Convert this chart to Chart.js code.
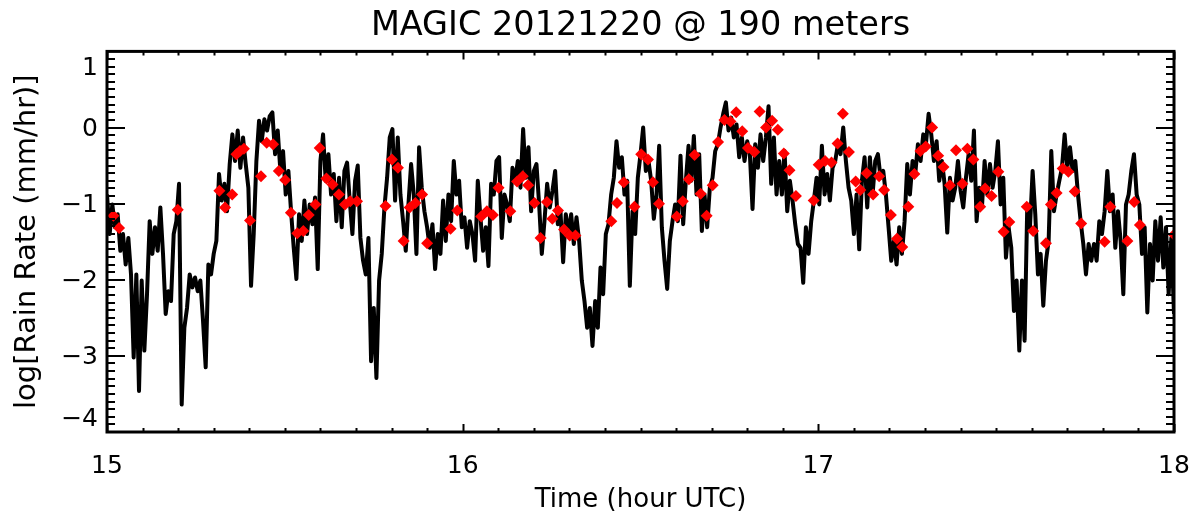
<!DOCTYPE html>
<html>
<head>
<meta charset="utf-8">
<script src="https://cdn.jsdelivr.net/npm/chart.js@4"></script>
<style>
  html, body { margin: 0; padding: 0; background: #fff; }
  #wrap { width: 1198px; height: 516px; }
</style>
</head>
<body>
<div id="wrap"><canvas id="c" width="1198" height="516"></canvas></div>
<script>
// ---- data (time in hours UTC, log10 rain rate in mm/hr) ----
const times = [
15.0000,15.0075,15.0150,15.0225,15.0300,15.0375,15.0450,15.0525,15.0600,15.0675,15.0750,15.0825,
15.0900,15.0975,15.1050,15.1125,15.1200,15.1275,15.1350,15.1425,15.1500,15.1575,15.1650,15.1725,
15.1800,15.1875,15.1950,15.2025,15.2100,15.2175,15.2250,15.2325,15.2400,15.2475,15.2550,15.2625,
15.2700,15.2775,15.2850,15.2925,15.3000,15.3075,15.3150,15.3225,15.3300,15.3375,15.3450,15.3525,
15.3600,15.3675,15.3750,15.3825,15.3900,15.3975,15.4050,15.4125,15.4200,15.4275,15.4350,15.4425,
15.4500,15.4575,15.4650,15.4725,15.4800,15.4875,15.4950,15.5025,15.5100,15.5175,15.5250,15.5325,
15.5400,15.5475,15.5550,15.5625,15.5700,15.5775,15.5850,15.5925,15.6000,15.6075,15.6150,15.6225,
15.6300,15.6375,15.6450,15.6525,15.6600,15.6675,15.6750,15.6825,15.6900,15.6975,15.7050,15.7125,
15.7200,15.7275,15.7350,15.7425,15.7500,15.7575,15.7650,15.7725,15.7800,15.7875,15.7950,15.8025,
15.8100,15.8175,15.8250,15.8325,15.8400,15.8475,15.8550,15.8625,15.8700,15.8775,15.8850,15.8925,
15.9000,15.9075,15.9150,15.9225,15.9300,15.9375,15.9450,15.9525,15.9600,15.9675,15.9750,15.9825,
15.9900,15.9975,16.0050,16.0125,16.0200,16.0275,16.0350,16.0425,16.0500,16.0575,16.0650,16.0725,
16.0800,16.0875,16.0950,16.1025,16.1100,16.1175,16.1250,16.1325,16.1400,16.1475,16.1550,16.1625,
16.1700,16.1775,16.1850,16.1925,16.2000,16.2075,16.2150,16.2225,16.2300,16.2375,16.2450,16.2525,
16.2600,16.2675,16.2750,16.2825,16.2900,16.2975,16.3050,16.3125,16.3200,16.3275,16.3350,16.3425,
16.3500,16.3575,16.3650,16.3725,16.3800,16.3875,16.3950,16.4025,16.4100,16.4175,16.4250,16.4325,
16.4400,16.4475,16.4550,16.4625,16.4700,16.4775,16.4850,16.4925,16.5000,16.5075,16.5150,16.5225,
16.5300,16.5375,16.5450,16.5525,16.5600,16.5675,16.5750,16.5825,16.5900,16.5975,16.6050,16.6125,
16.6200,16.6275,16.6350,16.6425,16.6500,16.6575,16.6650,16.6725,16.6800,16.6875,16.6950,16.7025,
16.7100,16.7175,16.7250,16.7325,16.7400,16.7475,16.7550,16.7625,16.7700,16.7775,16.7850,16.7925,
16.8000,16.8075,16.8150,16.8225,16.8300,16.8375,16.8450,16.8525,16.8600,16.8675,16.8750,16.8825,
16.8900,16.8975,16.9050,16.9125,16.9200,16.9275,16.9350,16.9425,16.9500,16.9575,16.9650,16.9725,
16.9800,16.9875,16.9950,17.0025,17.0100,17.0175,17.0250,17.0325,17.0400,17.0475,17.0550,17.0625,
17.0700,17.0775,17.0850,17.0925,17.1000,17.1075,17.1150,17.1225,17.1300,17.1375,17.1450,17.1525,
17.1600,17.1675,17.1750,17.1825,17.1900,17.1975,17.2050,17.2125,17.2200,17.2275,17.2350,17.2425,
17.2500,17.2575,17.2650,17.2725,17.2800,17.2875,17.2950,17.3025,17.3100,17.3175,17.3250,17.3325,
17.3400,17.3475,17.3550,17.3625,17.3700,17.3775,17.3850,17.3925,17.4000,17.4075,17.4150,17.4225,
17.4300,17.4375,17.4450,17.4525,17.4600,17.4675,17.4750,17.4825,17.4900,17.4975,17.5050,17.5125,
17.5200,17.5275,17.5350,17.5425,17.5500,17.5575,17.5650,17.5725,17.5800,17.5875,17.5950,17.6025,
17.6100,17.6175,17.6250,17.6325,17.6400,17.6475,17.6550,17.6625,17.6700,17.6775,17.6850,17.6925,
17.7000,17.7075,17.7150,17.7225,17.7300,17.7375,17.7450,17.7525,17.7600,17.7675,17.7750,17.7825,
17.7900,17.7975,17.8050,17.8125,17.8200,17.8275,17.8350,17.8425,17.8500,17.8575,17.8650,17.8725,
17.8800,17.8875,17.8950,17.9025,17.9100,17.9175,17.9250,17.9325,17.9400,17.9475,17.9550,17.9625,
17.9700,17.9775,17.9850,17.9925,18.0000
];

const logRainRate = [
-0.88,-1.40,-1.01,-1.31,-1.14,-1.62,-1.40,-1.80,-1.45,-1.93,
-3.02,-1.93,-3.46,-2.01,-2.93,-2.19,-1.23,-1.66,-1.31,-1.62,
-1.05,-1.66,-2.45,-2.15,-2.28,-1.40,-1.23,-0.74,-3.64,-2.63,
-2.37,-1.93,-2.10,-1.97,-2.15,-2.01,-2.54,-3.15,-1.80,-1.93,
-1.66,-1.49,-0.61,-0.96,-0.74,-1.10,-0.48,-0.09,-0.44,-0.04,
-0.53,-0.13,-0.48,-0.79,-2.08,-1.40,-0.44,0.09,-0.18,0.11,
-0.04,0.15,0.20,-0.35,-0.04,-0.57,-0.31,-0.88,-0.57,-1.10,
-1.58,-1.99,-1.14,-1.49,-0.96,-1.40,-1.01,-1.27,-0.92,-1.86,
-0.44,-0.09,-0.70,-0.35,-0.88,-0.61,-1.23,-0.66,-1.31,-0.57,
-0.46,-0.96,-1.40,-0.70,-0.50,-1.45,-1.75,-1.93,-1.45,-3.07,
-2.37,-3.29,-2.01,-1.66,-1.05,-0.66,-0.13,-0.02,-0.96,-0.13,
-0.88,-1.23,-1.62,-1.01,-0.48,-0.88,-1.66,-0.26,-0.79,-1.10,
-1.31,-1.58,-1.27,-1.86,-1.40,-1.66,-0.96,-1.49,-0.88,-1.23,
-0.44,-0.88,-0.70,-1.31,-1.18,-1.58,-1.23,-1.40,-1.75,-0.70,
-1.18,-1.62,-1.31,-1.82,-0.74,-0.88,-0.44,-0.39,-1.45,-0.88,
-1.01,-1.23,-0.53,-0.70,-0.44,-0.79,-0.02,-0.66,-0.26,-1.10,
-0.57,-0.48,-1.01,-1.66,-1.23,-0.74,-1.05,-0.83,-0.57,-1.27,
-1.10,-1.77,-1.14,-1.40,-1.14,-1.53,-1.18,-1.49,-2.01,-2.28,
-2.63,-2.37,-2.87,-2.28,-2.63,-1.84,-2.19,-1.40,-1.27,-0.88,
-0.66,-0.18,-0.53,-0.39,-0.88,-0.70,-2.08,-1.10,-1.40,-0.66,
-0.35,0.00,-0.57,-0.44,-0.70,-1.20,-0.88,-0.24,-1.31,-1.75,
-2.12,-1.49,-1.23,-1.01,-1.23,-0.37,-1.27,-0.70,-0.24,-0.70,
-0.11,-0.88,-0.35,-1.36,-0.88,-1.31,-0.79,-0.66,-0.31,-0.22,
0.00,0.18,0.33,-0.04,0.13,-0.13,0.04,-0.39,-0.13,-0.44,
-0.18,-0.35,-1.07,-0.22,-0.53,-0.09,-0.44,-0.13,0.28,-0.74,
-0.13,-0.88,-0.44,-0.88,-0.31,-1.10,-0.70,-0.96,-1.27,-1.53,
-1.58,-2.04,-1.31,-1.66,-1.23,-0.96,-0.66,-1.01,-0.24,-0.88,
-0.61,-0.96,-0.53,-0.44,-0.22,-0.35,0.00,-0.44,-0.79,-0.96,
-1.40,-0.88,-1.60,-0.70,-0.39,-1.05,-0.39,-0.88,-0.44,-0.35,
-0.66,-0.57,-0.88,-1.31,-1.75,-1.49,-1.80,-1.31,-1.66,-1.23,
-0.48,-0.88,-0.44,-0.61,-0.22,-0.44,-0.09,-0.22,0.18,-0.09,
-0.44,-0.18,-0.70,-0.44,-0.74,-1.38,-0.66,-0.96,-0.79,-0.44,
-0.83,-1.05,-0.66,-0.35,-0.70,-0.04,-1.23,-0.79,-1.05,-0.44,
-0.88,-0.48,-0.79,-0.57,-0.18,-1.01,-0.66,-1.71,-1.31,-1.58,
-2.41,-2.01,-2.93,-2.01,-2.80,-1.01,-1.31,-0.57,-1.14,-1.93,
-1.66,-2.34,-1.75,-1.49,-0.31,-1.10,-0.88,-0.70,-0.53,-0.09,
-0.53,-0.26,-0.57,-0.44,-0.88,-1.23,-1.53,-1.93,-1.53,-1.75,
-1.53,-1.75,-1.23,-1.40,-1.10,-0.57,-1.10,-0.88,-1.58,-1.10,
-1.49,-2.19,-1.01,-0.88,-0.57,-0.35,-0.88,-1.01,-1.66,-1.31,
-2.43,-1.53,-2.01,-1.23,-1.75,-1.18,-1.84,-1.31,-2.19,-1.45,
-2.45
];

// red diamond samples
const sampleTimes = [
15.018,15.034,15.199,15.316,15.332,15.352,15.364,15.374,15.385,15.402,
15.433,15.449,15.467,15.483,15.501,15.517,15.535,15.552,15.567,15.586,
15.598,15.617,15.634,15.652,15.669,15.684,15.703,
15.783,15.801,15.818,15.834,15.851,15.867,15.886,15.900,15.966,15.985,
16.052,16.068,16.085,16.101,16.134,16.153,16.169,16.184,16.202,16.219,
16.237,16.252,16.268,16.285,16.301,16.317,16.418,16.434,16.453,
16.483,16.502,16.521,16.535,16.552,16.602,16.619,16.636,16.652,16.669,
16.686,16.703,16.718,16.736,16.753,16.769,16.786,16.802,16.820,16.835,
16.853,16.870,16.886,16.903,16.919,16.937,16.987,17.001,17.019,17.037,
17.054,17.069,17.086,17.105,17.118,17.136,17.154,17.171,17.185,17.204,
17.221,17.236,
17.253,17.270,17.287,17.302,17.320,17.337,17.352,17.370,17.387,17.405,
17.419,17.436,17.455,17.469,17.487,17.506,17.521,17.537,17.586,17.604,
17.640,17.654,17.670,17.687,17.703,17.721,17.739,17.805,17.821,17.869,
17.888,17.904,18.000
];
const sampleValues = [
-1.16,-1.32,-1.08,-0.83,-1.05,-0.88,-0.35,-0.31,-0.28,-1.22,
-0.64,-0.20,-0.22,-0.57,-0.69,-1.12,-1.39,-1.36,-1.15,-1.01,
-0.27,-0.67,-0.75,-0.88,-1.01,-0.97,-0.97,
-1.03,-0.42,-0.53,-1.49,-1.05,-0.99,-0.88,-1.52,-1.33,-1.09,
-1.17,-1.10,-1.15,-0.79,-1.10,-0.71,-0.64,-0.76,-0.99,-1.45,
-0.98,-1.20,-1.09,-1.34,-1.42,-1.42,-1.23,-0.99,-0.72,
-1.04,-0.35,-0.42,-0.72,-1.00,-1.17,-0.97,-0.68,-0.36,-0.87,
-1.16,-0.76,-0.19,0.10,0.08,0.20,-0.05,-0.27,-0.32,0.21,
0.00,0.09,-0.03,-0.34,-0.56,-0.90,-0.96,-0.49,-0.44,-0.46,
-0.21,0.18,-0.32,-0.71,-0.82,-0.60,-0.88,-0.64,-0.82,-1.15,
-1.46,-1.57,
-1.04,-0.61,-0.31,-0.25,0.00,-0.37,-0.52,-0.76,-0.30,-0.74,
-0.28,-0.42,-1.04,-0.80,-0.90,-0.58,-1.37,-1.24,-1.04,-1.36,
-1.52,-1.01,-0.86,-0.54,-0.58,-0.84,-1.26,-1.50,-1.04,-1.49,
-0.98,-1.28,-1.41
];

// axes
const xMin = 15, xMax = 18;
const yMin = -4, yMax = 1;
const xTickValues = [15, 16, 17, 18];
const xTickLabels = ['15', '16', '17', '18'];
const yTickValues = [-4, -3, -2, -1, 0, 1];
const yTickLabels = ['\u22124', '\u22123', '\u22122', '\u22121', '0', '1'];
const xMinorStep = 0.1;
const yMinorStep = 0.1;

const titleText = 'MAGIC 20121220 @ 190 meters';
const xTitle = 'Time (hour UTC)';
const yTitle = 'log[Rain Rate (mm/hr)]';

// ---- drawing ----
const FONT = "'DejaVu Sans', sans-serif";
Chart.defaults.font.family = FONT;
Chart.defaults.color = '#000';

const frameTicks = {
  id: 'frameTicks',
  afterDatasetsDraw(chart) {
    const {ctx, chartArea: a, scales: {x, y}} = chart;
    ctx.save();
    ctx.strokeStyle = '#000';
    ctx.lineWidth = 2;
    ctx.beginPath();
    const nx = Math.round((xMax - xMin) / xMinorStep);
    for (let i = 0; i <= nx; i++) {
      const v = xMin + i * xMinorStep;
      const px = Math.round(x.getPixelForValue(v)) + 0.5;
      const major = i % 10 === 0;
      const len = major ? 8 : 4;
      ctx.moveTo(px, a.bottom); ctx.lineTo(px, a.bottom - len);
      ctx.moveTo(px, a.top); ctx.lineTo(px, a.top + len);
    }
    const ny = Math.round((yMax - yMin) / yMinorStep);
    for (let i = 0; i <= ny; i++) {
      const v = yMin + i * yMinorStep;
      const py = Math.round(y.getPixelForValue(v));
      const major = i % 10 === 0;
      const len = major ? 18 : 8;
      ctx.moveTo(a.left, py); ctx.lineTo(a.left + len, py);
      ctx.moveTo(a.right, py); ctx.lineTo(a.right - len, py);
    }
    ctx.stroke();
    ctx.lineWidth = 3;
    ctx.strokeRect(a.left, a.top, a.right - a.left, a.bottom - a.top);
    ctx.restore();
  }
};

const linePoints = times.map((t, i) => ({x: t, y: logRainRate[i]}));
const samplePoints = sampleTimes.map((t, i) => ({x: t, y: sampleValues[i]}));

new Chart(document.getElementById('c'), {
  type: 'line',
  data: {
    datasets: [
      {
        label: 'rain rate',
        data: linePoints,
        borderColor: '#000',
        borderWidth: 4,
        borderJoinStyle: 'round',
        pointRadius: 0,
        tension: 0,
        fill: false,
        clip: 0,
        order: 2
      },
      {
        label: 'samples',
        data: samplePoints,
        showLine: false,
        pointStyle: 'rectRot',
        pointRadius: 6,
        pointBackgroundColor: '#ff0000',
        pointBorderWidth: 0,
        backgroundColor: '#ff0000',
        borderColor: '#ff0000',
        clip: 0,
        order: 1
      }
    ]
  },
  options: {
    responsive: false,
    animation: false,
    devicePixelRatio: 1,
    events: [],
    layout: { padding: { left: 0, right: 24, top: 0, bottom: 0 } },
    plugins: {
      legend: { display: false },
      tooltip: { enabled: false },
      title: {
        display: true,
        text: titleText,
        fullSize: false,
        color: '#000',
        font: { family: FONT, size: 33.5, weight: 'normal' },
        padding: { top: 6, bottom: 5.2 }
      }
    },
    scales: {
      x: {
        type: 'linear',
        min: xMin, max: xMax,
        afterBuildTicks: s => { s.ticks = xTickValues.map(v => ({value: v})); },
        afterFit: s => { s.height = 84; },
        grid: { display: false, drawTicks: true, tickLength: 19 },
        border: { display: false },
        ticks: {
          autoSkip: false, maxRotation: 0, padding: 0,
          font: { family: FONT, size: 25 },
          color: '#000',
          callback: v => xTickLabels[xTickValues.indexOf(v)]
        },
        title: {
          display: true, text: xTitle, color: '#000',
          font: { family: FONT, size: 26 },
          padding: { top: 0, bottom: 0 }
        }
      },
      y: {
        type: 'linear',
        min: yMin, max: yMax,
        afterBuildTicks: s => { s.ticks = yTickValues.map(v => ({value: v})); },
        afterFit: s => { s.width = 107; },
        grid: { display: false, drawTicks: false },
        border: { display: false },
        ticks: {
          autoSkip: false, padding: 9, labelOffset: 2,
          font: { family: FONT, size: 25 },
          color: '#000',
          callback: v => {
            const lab = yTickLabels[yTickValues.indexOf(v)];
            if (v === yMax) return ['', lab];
            if (v === yMin) return [lab, ''];
            return lab;
          }
        },
        title: {
          display: true, text: yTitle, color: '#000',
          font: { family: FONT, size: 29 },
          padding: { top: 10, bottom: 0 }
        }
      }
    }
  },
  plugins: [frameTicks]
});
</script>
</body>
</html>
